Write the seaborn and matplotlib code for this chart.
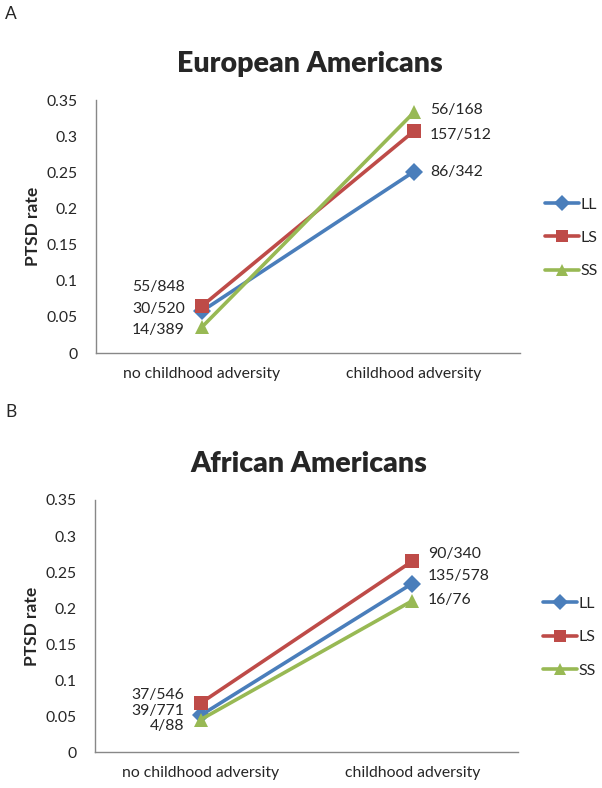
import matplotlib
matplotlib.use("Agg")
import matplotlib.pyplot as plt
import seaborn as sns
import pandas as pd

conditions = ["no childhood adversity", "childhood adversity"]
genotypes = ["LL", "LS", "SS"]

# European Americans
ea_LL = [0.058, 0.251]
ea_LS = [0.065, 0.307]
ea_SS = [0.036, 0.333]
ea_left_labels = ["55/848", "30/520", "14/389"]
ea_right_labels = ["56/168", "157/512", "86/342"]

# African Americans
aa_LL = [0.051, 0.234]
aa_LS = [0.068, 0.265]
aa_SS = [0.045, 0.210]
aa_left_labels = ["37/546", "39/771", "4/88"]
aa_right_labels = ["90/340", "135/578", "16/76"]

yticks = [0, 0.05, 0.1, 0.15, 0.2, 0.25, 0.3, 0.35]
ytick_labels = ["0", "0.05", "0.1", "0.15", "0.2", "0.25", "0.3", "0.35"]

# layout (label anchor y positions in data units)
ea_left_y = [0.091, 0.061, 0.032]
ea_right_y = [0.336, 0.301, 0.250]
aa_left_y = [0.0786, 0.0564, 0.0356]
aa_right_y = [0.275, 0.245, 0.211]

sns.set_style("white")
plt.rcParams["font.family"] = ["Lato", "DejaVu Sans"]

palette = {"LL": "#4A7EBB", "LS": "#BE4B48", "SS": "#98B954"}
markers = {"LL": "D", "LS": "s", "SS": "^"}


def make_df(LL, LS, SS):
    rows = []
    for g, vals in zip(genotypes, [LL, LS, SS]):
        for c, v in zip(conditions, vals):
            rows.append({"condition": c, "genotype": g, "rate": v})
    return pd.DataFrame(rows)


fig = plt.figure(figsize=(6.02, 7.88), dpi=100)
W, H = 602, 788


def add_ax(left, right, top, bottom):
    return fig.add_axes([left / W, 1 - bottom / H, (right - left) / W, (bottom - top) / H])


axA = add_ax(96, 520, 100, 353)
axB = add_ax(95, 518, 500, 752)

FS = 11.3


def draw(ax, df, title, left_labels, left_y, right_labels, right_y):
    df = df.copy()
    df["x"] = df["condition"].map({c: i for i, c in enumerate(conditions)})
    sns.lineplot(data=df, x="x", y="rate", hue="genotype", style="genotype",
                 palette=palette, markers=markers, dashes=False, linewidth=2.6,
                 markersize=9, markeredgewidth=0, ax=ax, hue_order=genotypes,
                 style_order=genotypes)
    for line in ax.lines:
        if line.get_marker() in ("s", "^"):
            line.set_markersize(10)
    ax.set_xlim(-0.5, 1.5)
    ax.set_ylim(0, 0.35)
    ax.set_yticks(yticks)
    ax.set_yticklabels(ytick_labels, fontsize=FS)
    ax.set_xticks([0, 1])
    ax.set_xticklabels(conditions, fontsize=FS)
    ax.tick_params(axis="both", length=0)
    ax.tick_params(axis="y", pad=13)
    ax.tick_params(axis="x", pad=10)
    for s in ["top", "right"]:
        ax.spines[s].set_visible(False)
    for s in ["left", "bottom"]:
        ax.spines[s].set_color("#888888")
        ax.spines[s].set_linewidth(1.0)
    ax.set_xlabel("")
    ax.set_ylabel("PTSD rate", fontsize=12.5, fontweight="bold", labelpad=4)
    ax.set_title(title, fontsize=20.5, fontweight="heavy", pad=20, x=0.505)
    for lab, y in zip(left_labels, left_y):
        ax.text(-0.08, y, lab, ha="right", va="center", fontsize=FS)
    for lab, y in zip(right_labels, right_y):
        ax.text(1.075, y, lab, ha="left", va="center", fontsize=FS)
    leg = ax.legend(loc="center left", bbox_to_anchor=(1.06, 0.455), frameon=False,
                    fontsize=11.5, handlelength=2.1, handletextpad=0.1,
                    labelspacing=1.2, borderaxespad=0, borderpad=0)
    for h in leg.legend_handles:
        h.set_linewidth(2.6)
        h.set_markersize(8)


draw(axA, make_df(ea_LL, ea_LS, ea_SS), "European Americans",
     ea_left_labels, ea_left_y, ea_right_labels, ea_right_y)
draw(axB, make_df(aa_LL, aa_LS, aa_SS), "African Americans",
     aa_left_labels, aa_left_y, aa_right_labels, aa_right_y)

fig.text(5 / W, 1 - 14 / H, "A", fontsize=12.5, va="center", ha="left")
fig.text(5 / W, 1 - 412 / H, "B", fontsize=12.5, va="center", ha="left")

fig.savefig("out.png", dpi=100)
